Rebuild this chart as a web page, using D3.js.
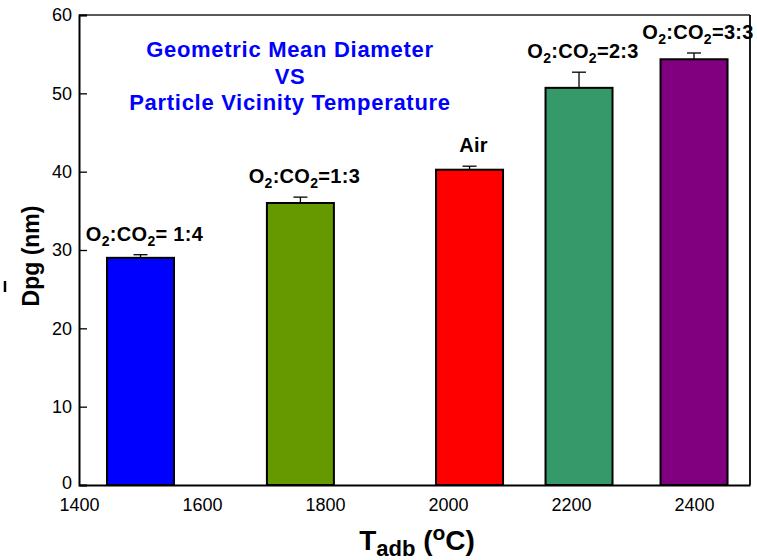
<!DOCTYPE html>
<html>
<head>
<meta charset="utf-8">
<script src="https://cdn.jsdelivr.net/npm/d3@7"></script>
<style>
  html, body { margin: 0; padding: 0; background: #fff; }
  svg { display: block; font-family: "Liberation Sans", Arial, Helvetica, sans-serif; }
</style>
</head>
<body>
<svg id="chart" width="757" height="560"></svg>
<script>
// ---- data ----
const categories = ["O2:CO2= 1:4", "O2:CO2=1:3", "Air", "O2:CO2=2:3", "O2:CO2=3:3"];
const temperatures = [1500, 1760, 2035, 2213, 2400];
const dpgValues = [29.0, 36.0, 40.25, 50.7, 54.35];
const dpgErrors = [0.4, 0.75, 0.45, 2.0, 0.8];
const barColors = ["#0000FF", "#669900", "#FF0000", "#359969", "#800080"];
const xTicks = [1400, 1600, 1800, 2000, 2200, 2400];
const yTicks = [0, 10, 20, 30, 40, 50, 60];
const titleLines = ["Geometric Mean Diameter", "VS", "Particle Vicinity Temperature"];

// ---- layout ----
const padL = 79, padR = 750, padT = 15, padB = 485;
const svg = d3.select("#chart");

const x = d3.scaleLinear().domain([1400, 2491]).range([padL, padR]);
const y = d3.scaleLinear().domain([0, 60]).range([padB, padT]);
const barW = 67;

// frame (top + right)
svg.append("line").attr("x1", padL).attr("x2", padR).attr("y1", padT).attr("y2", padT)
  .attr("stroke", "#222").attr("stroke-width", 1.3);
svg.append("line").attr("x1", padR).attr("x2", padR).attr("y1", padT).attr("y2", padB)
  .attr("stroke", "#000").attr("stroke-width", 1.8);

// bars
const g = svg.append("g");
const data = categories.map((c, i) => ({c, t: temperatures[i], v: dpgValues[i], e: dpgErrors[i], col: barColors[i]}));

// error bars
data.forEach(d => {
  const cx = x(d.t);
  g.append("line").attr("x1", cx).attr("x2", cx).attr("y1", y(d.v)).attr("y2", y(d.v + d.e))
    .attr("stroke", "#000").attr("stroke-width", 1.3);
  g.append("line").attr("x1", cx - 7).attr("x2", cx + 7).attr("y1", y(d.v + d.e)).attr("y2", y(d.v + d.e))
    .attr("stroke", "#000").attr("stroke-width", 1.3);
});

g.selectAll("rect.bar").data(data).enter().append("rect")
  .attr("class", "bar")
  .attr("x", d => x(d.t) - barW / 2)
  .attr("y", d => y(d.v))
  .attr("width", barW)
  .attr("height", d => y(0) - y(d.v))
  .attr("fill", d => d.col)
  .attr("stroke", "#000")
  .attr("stroke-width", 2);

// bar labels with subscripts: "O2" -> O + subscript 2
function richLabel(sel, str) {
  const segs = [];
  str.split(/(O2)/).forEach(p => {
    if (p === "O2") { segs.push({t: "O", sub: false}); segs.push({t: "2", sub: true}); }
    else if (p.length) segs.push({t: p, sub: false});
  });
  let shifted = false;
  segs.forEach(s => {
    const ts = sel.append("tspan").text(s.t);
    if (s.sub) { ts.attr("dy", 5).attr("font-size", "14px"); shifted = true; }
    else if (shifted) { ts.attr("dy", -5); shifted = false; }
  });
}
data.forEach(d => {
  const t = svg.append("text")
    .attr("x", x(d.t) + 4)
    .attr("y", y(d.v + d.e) - 14)
    .attr("text-anchor", "middle")
    .attr("font-size", "20px")
    .attr("font-weight", "bold")
    .attr("letter-spacing", "0.3px")
    .attr("fill", "#000");
  richLabel(t, d.c);
});

// axes
const yAxis = d3.axisLeft(y).tickValues(yTicks).tickSize(-8).tickPadding(14).tickFormat(d3.format("d"));
const ya = svg.append("g").attr("transform", `translate(${padL},0)`).call(yAxis);
ya.select(".domain").attr("stroke", "#000").attr("stroke-width", 2);
ya.selectAll(".tick line").attr("stroke", "#000").attr("stroke-width", 1.3);
ya.selectAll(".tick text").attr("font-size", "18px").attr("fill", "#000")
  .attr("font-family", "'Liberation Sans', Arial, sans-serif").attr("x", -7);
ya.selectAll(".tick").filter(d => d === 0).select("text").attr("dy", "0.2em");

const xAxis = d3.axisBottom(x).tickValues(xTicks).tickSize(0).tickPadding(13).tickFormat(d3.format("d"));
const xa = svg.append("g").attr("transform", `translate(0,${padB})`).call(xAxis);
xa.select(".domain").attr("stroke", "#000").attr("stroke-width", 2);
xa.selectAll(".tick text").attr("font-size", "18px").attr("fill", "#000")
  .attr("font-family", "'Liberation Sans', Arial, sans-serif");

// title
titleLines.forEach((ln, i) => {
  svg.append("text").attr("x", 290).attr("y", 57 + i * 26.5)
    .attr("text-anchor", "middle").attr("font-size", "22px").attr("font-weight", "bold")
    .attr("letter-spacing", "0.7px")
    .attr("fill", "#0000FF").text(ln);
});

// y label
svg.append("text").attr("transform", "translate(39,256) rotate(-90)")
  .attr("text-anchor", "middle").attr("font-size", "23px").attr("font-weight", "bold")
  .attr("fill", "#000").text("Dpg (nm)");
// stray mark at far left
svg.append("line").attr("x1", 5).attr("x2", 5).attr("y1", 281).attr("y2", 292)
  .attr("stroke", "#000").attr("stroke-width", 2.5);

// x label
const xl = svg.append("text").attr("x", 417).attr("y", 550)
  .attr("text-anchor", "middle").attr("font-weight", "bold").attr("fill", "#000")
  .attr("font-size", "28px");
xl.append("tspan").text("T");
xl.append("tspan").attr("font-size", "22px").attr("dy", 6).text("adb");
xl.append("tspan").attr("dy", -6).text(" (");
xl.append("tspan").attr("font-size", "21px").attr("dy", -10).text("o");
xl.append("tspan").attr("dy", 10).text("C)");
</script>
</body>
</html>
